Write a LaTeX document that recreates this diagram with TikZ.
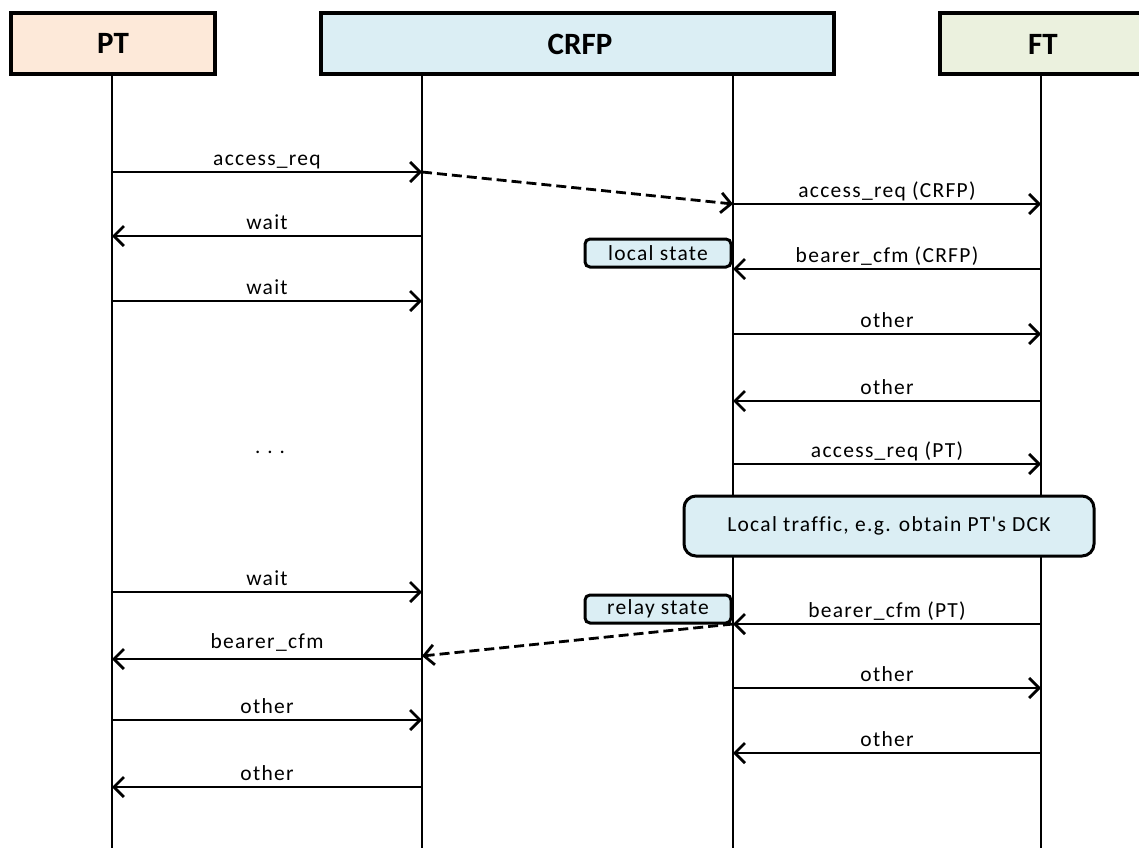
\documentclass[tikz,border=0pt]{standalone}
\usepackage{fontspec}
\setmainfont{Carlito}
\newfontfamily\lblfont[LetterSpace=6,Ligatures=NoCommon]{Carlito}
\usetikzlibrary{arrows.meta}
\definecolor{ptfill}{HTML}{FDE9D9}
\definecolor{crfpfill}{HTML}{DBEEF4}
\definecolor{ftfill}{HTML}{EBF1DE}
\definecolor{notefill}{HTML}{DBEEF4}
\begin{document}
\begin{tikzpicture}[x=1pt,y=-1pt,
  head/.style={draw, line width=4pt, inner sep=0pt, font=\fontsize{31}{31}\selectfont\bfseries},
  life/.style={line width=2.8pt},
  msg/.style={line width=2.8pt, -{Straight Barb[length=10pt,width=20pt,line width=2.8pt]}},
  dmsg/.style={msg, dash pattern=on 10pt off 5pt},
  lbl/.style={font=\lblfont\fontsize{21.5}{21.5}\selectfont, anchor=base, inner sep=0pt, yshift=7pt},
  note/.style={draw, fill=notefill, line width=3pt, rounded corners=5pt, inner sep=0pt,
    minimum width=146pt, minimum height=28pt, font=\lblfont\fontsize{21.5}{21.5}\selectfont},
  bignote/.style={draw, fill=notefill, line width=3pt, rounded corners=12pt, inner sep=0pt,
    minimum width=410pt, minimum height=60pt, font=\lblfont\fontsize{21.5}{21.5}\selectfont}
]
\clip (0,0) rectangle (1139,847);
\fill[white] (0,0) rectangle (1139,847);
% headers
\node[head, fill=ptfill, minimum width=204pt, minimum height=61pt] (PT) at (113,43.5) {PT};
\node[head, fill=crfpfill, minimum width=513pt, minimum height=61pt] (CRFP) at (577.5,43.5) {};
\node[font=\fontsize{31}{31}\selectfont\bfseries] (CRFPt) at (580,44) {CRFP};
\node[head, fill=ftfill, minimum width=230pt, minimum height=61pt] (FT) at (1055,43.5) {};
\node[font=\fontsize{31}{31}\selectfont\bfseries] (FTt) at (1043,44) {FT};
% lifelines
\coordinate (a) at (112,76);
\coordinate (b) at (422,76);
\coordinate (c) at (733,76);
\coordinate (d) at (1041,76);
\coordinate (a2) at (112,850);
\coordinate (b2) at (422,850);
\coordinate (c2) at (733,850);
\coordinate (d2) at (1041,850);
\draw[life] (a) -- (a2);
\draw[life] (b) -- (b2);
\draw[life] (c) -- (c2);
\draw[life] (d) -- (d2);
% messages
\draw[msg] (a |- 0,172) -- node[lbl]{access\_req} (b |- 0,172);
\draw[dmsg] (b |- 0,172) -- (c |- 0,204);
\draw[msg] (c |- 0,204) -- node[lbl]{access\_req (CRFP)} (d |- 0,204);
\draw[msg] (b |- 0,236) -- node[lbl]{wait} (a |- 0,236);
\draw[msg] (d |- 0,269) -- node[lbl]{bearer\_cfm (CRFP)} (c |- 0,269);
\node[note] (ls) at (658,253) {local state};
\draw[msg] (a |- 0,301) -- node[lbl]{wait} (b |- 0,301);
\draw[msg] (c |- 0,334) -- node[lbl]{other} (d |- 0,334);
\draw[msg] (d |- 0,401) -- node[lbl]{other} (c |- 0,401);
\node[font=\fontsize{21}{21}\selectfont] (dots) at (270,452) {.\,\,.\,\,.};
\draw[msg] (c |- 0,464) -- node[lbl]{access\_req (PT)} (d |- 0,464);
\node[bignote] (lt) at (889,526) {Local traffic, e.g. obtain PT's DCK};
\draw[msg] (a |- 0,592) -- node[lbl]{wait} (b |- 0,592);
\draw[msg] (d |- 0,624) -- node[lbl]{bearer\_cfm (PT)} (c |- 0,624);
\node[note] (rs) at (658,609) {relay state};
\draw[dmsg] (c |- 0,624) -- (b |- 0,656);
\draw[msg] (b |- 0,659) -- node[lbl, yshift=4pt]{bearer\_cfm} (a |- 0,659);
\draw[msg] (c |- 0,688) -- node[lbl]{other} (d |- 0,688);
\draw[msg] (a |- 0,720) -- node[lbl]{other} (b |- 0,720);
\draw[msg] (d |- 0,753) -- node[lbl]{other} (c |- 0,753);
\draw[msg] (b |- 0,787) -- node[lbl]{other} (a |- 0,787);
\end{tikzpicture}
\end{document}
